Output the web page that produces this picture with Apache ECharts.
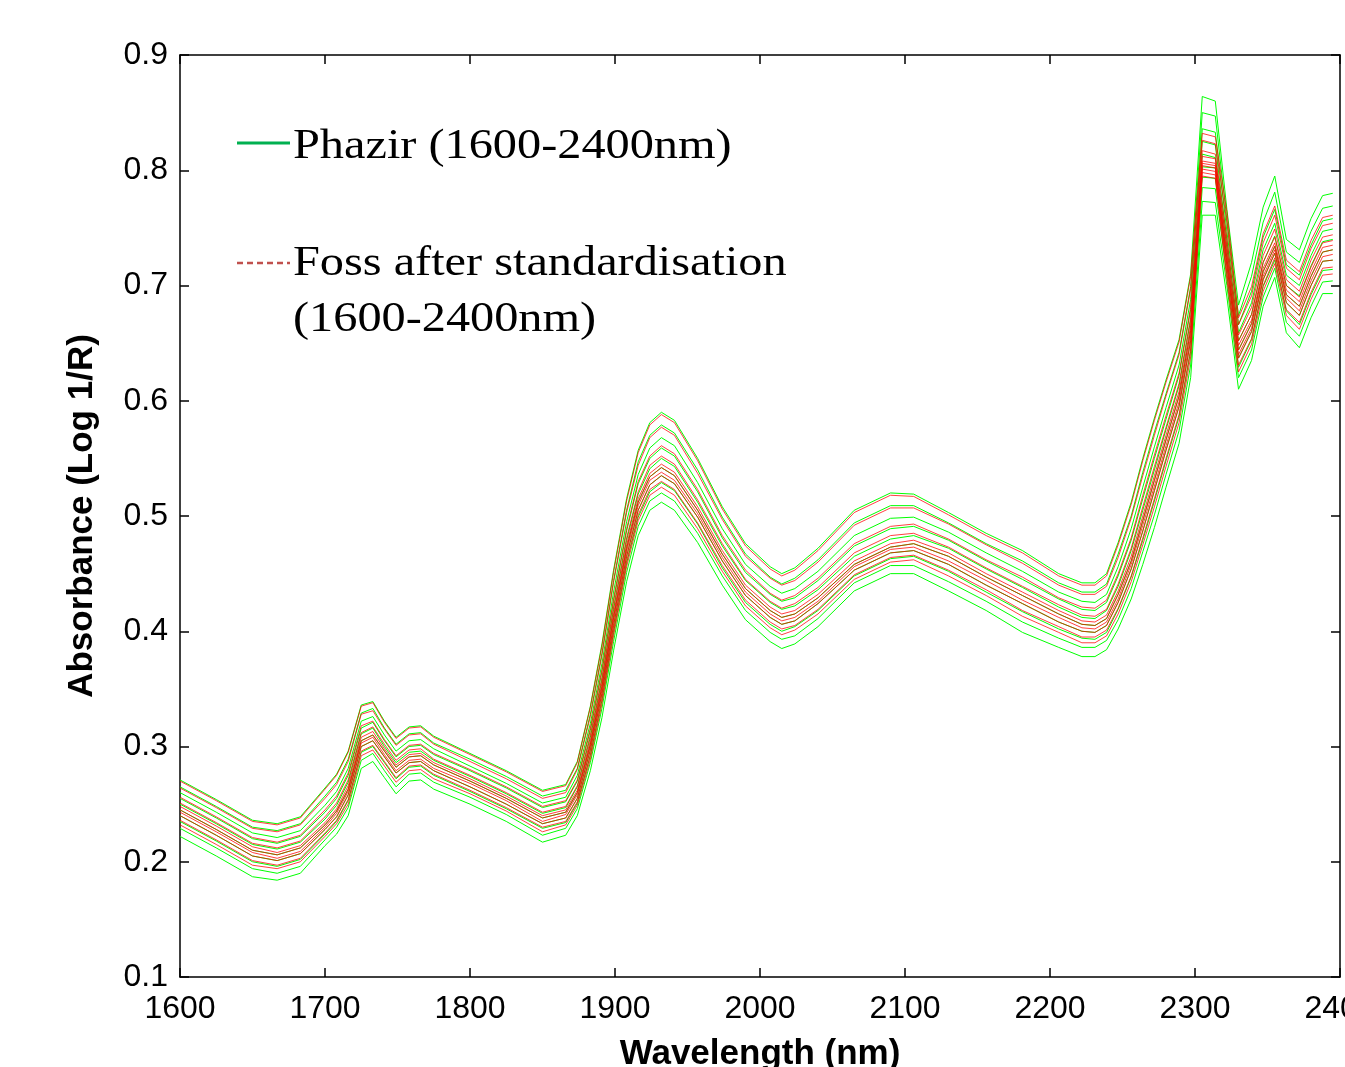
<!DOCTYPE html>
<html>
<head>
<meta charset="utf-8">
<script src="https://cdn.jsdelivr.net/npm/echarts@6/dist/echarts.min.js"></script>
<style>html,body{margin:0;padding:0;background:#fff;overflow:hidden;}#chart{width:1345px;height:1067px;}</style>
</head>
<body>
<div id="chart"></div>
<script>
// Wavelength grid (nm)
const wavelengths = [1600,1625,1650,1667,1683,1700,1708,1716,1725,1733,1741,1749,1758,1766,1775,1800,1825,1850,1866,1874,1883,1891,1899,1908,1916,1924,1932,1941,1957,1974,1990,2007,2015,2024,2040,2065,2090,2106,2130,2156,2181,2206,2222,2231,2239,2247,2256,2264,2272,2280,2289,2297,2305,2314,2322,2330,2339,2347,2355,2363,2372,2380,2388,2395];

// Phazir spectra (green)
const phazir1 = [.271,.254,.236,.233,.239,.264,.276,.296,.336,.339,.322,.308,.317,.318,.309,.294,.279,.262,.267,.287,.335,.389,.453,.515,.557,.581,.590,.583,.550,.508,.476,.456,.450,.455,.472,.505,.520,.519,.503,.485,.470,.450,.442,.442,.450,.477,.512,.550,.585,.618,.653,.710,.864,.860,.766,.683,.720,.768,.795,.740,.731,.758,.778,.780];
const phazir2 = [.265,.248,.230,.227,.233,.257,.269,.289,.329,.333,.316,.302,.311,.312,.303,.289,.274,.257,.262,.281,.328,.381,.444,.505,.547,.570,.579,.572,.540,.499,.467,.447,.441,.446,.462,.494,.509,.509,.494,.476,.461,.442,.434,.434,.441,.467,.500,.538,.573,.606,.642,.699,.850,.847,.757,.674,.708,.755,.781,.729,.720,.747,.767,.769];
const phazir3 = [.260,.243,.225,.221,.227,.249,.261,.281,.322,.326,.310,.296,.305,.306,.298,.283,.268,.251,.256,.275,.320,.372,.434,.495,.536,.559,.568,.561,.529,.489,.458,.439,.433,.437,.452,.483,.498,.499,.486,.468,.452,.434,.426,.425,.432,.456,.489,.525,.560,.594,.631,.688,.836,.833,.747,.666,.695,.742,.766,.718,.709,.735,.756,.758];
const phazir4 = [.255,.238,.220,.216,.222,.243,.255,.275,.316,.321,.305,.291,.300,.301,.293,.279,.264,.247,.252,.270,.314,.365,.426,.487,.528,.550,.559,.552,.521,.481,.451,.432,.426,.429,.444,.474,.489,.491,.479,.461,.445,.428,.419,.418,.425,.448,.479,.515,.550,.584,.622,.679,.825,.822,.739,.659,.685,.731,.754,.709,.700,.726,.747,.749];
const phazir5 = [.250,.233,.215,.211,.217,.237,.249,.269,.311,.316,.300,.286,.295,.296,.288,.274,.259,.242,.247,.265,.308,.358,.419,.479,.519,.541,.550,.543,.512,.474,.444,.425,.419,.422,.436,.465,.480,.483,.472,.454,.438,.421,.412,.411,.418,.439,.470,.505,.540,.575,.613,.670,.814,.811,.732,.652,.675,.720,.743,.700,.691,.717,.738,.740];
const phazir6 = [.245,.228,.210,.206,.212,.232,.244,.263,.305,.310,.296,.282,.291,.292,.284,.270,.255,.238,.243,.260,.302,.352,.412,.472,.512,.534,.542,.535,.505,.467,.437,.418,.412,.415,.429,.458,.473,.476,.465,.447,.431,.415,.406,.405,.411,.432,.461,.496,.531,.566,.604,.661,.803,.802,.724,.644,.667,.712,.734,.692,.682,.708,.729,.731];
const phazir7 = [.240,.223,.205,.201,.207,.228,.239,.258,.300,.305,.291,.277,.286,.287,.279,.265,.250,.233,.238,.255,.297,.346,.405,.465,.505,.527,.535,.528,.499,.461,.431,.412,.406,.409,.424,.453,.468,.470,.458,.440,.424,.408,.400,.399,.405,.425,.454,.487,.522,.557,.595,.652,.794,.793,.717,.637,.660,.705,.728,.685,.674,.700,.721,.722];
const phazir8 = [.235,.218,.200,.196,.202,.224,.235,.253,.295,.300,.286,.272,.282,.283,.275,.261,.246,.229,.234,.251,.292,.340,.399,.459,.499,.521,.529,.522,.493,.455,.425,.406,.400,.404,.418,.448,.463,.465,.452,.434,.417,.402,.394,.393,.399,.419,.447,.479,.513,.548,.586,.643,.785,.784,.709,.629,.653,.699,.722,.678,.666,.692,.713,.714];
const phazir9 = [.229,.212,.194,.190,.196,.219,.230,.247,.288,.294,.279,.265,.276,.277,.269,.256,.241,.223,.229,.246,.286,.333,.391,.451,.491,.513,.520,.513,.485,.448,.418,.399,.393,.396,.411,.442,.457,.457,.443,.426,.408,.394,.386,.386,.392,.410,.437,.469,.501,.536,.574,.631,.773,.772,.700,.620,.644,.690,.715,.668,.656,.682,.703,.704];
const phazir10 = [.222,.205,.187,.184,.190,.214,.224,.240,.281,.287,.273,.259,.270,.271,.263,.250,.235,.217,.223,.240,.279,.325,.383,.443,.483,.505,.512,.505,.477,.440,.410,.391,.385,.389,.404,.435,.450,.450,.435,.418,.399,.386,.378,.378,.384,.402,.428,.458,.490,.525,.563,.620,.761,.761,.690,.610,.635,.682,.707,.659,.646,.672,.693,.693];

// Foss after standardisation spectra (red)
const foss1 = [.270,.253,.235,.232,.238,.263,.275,.295,.335,.338,.321,.307,.316,.317,.308,.293,.278,.261,.266,.286,.334,.387,.451,.513,.555,.579,.588,.581,.548,.506,.474,.454,.448,.453,.470,.503,.518,.517,.501,.483,.468,.448,.440,.440,.448,.475,.510,.548,.583,.616,.651,.708,.832,.829,.764,.672,.699,.745,.769,.722,.712,.739,.759,.761];
const foss2 = [.264,.247,.229,.226,.232,.255,.267,.287,.328,.331,.315,.301,.310,.311,.302,.287,.272,.255,.260,.280,.326,.379,.442,.503,.544,.568,.577,.570,.537,.497,.465,.446,.440,.444,.460,.492,.507,.507,.493,.475,.459,.440,.432,.432,.439,.464,.498,.535,.570,.604,.640,.697,.826,.823,.755,.666,.691,.737,.761,.715,.705,.732,.752,.754];
const foss3 = [.256,.239,.221,.217,.223,.245,.257,.277,.318,.322,.306,.292,.301,.302,.294,.280,.265,.248,.253,.271,.316,.367,.428,.489,.530,.552,.561,.554,.523,.483,.453,.433,.427,.431,.446,.476,.491,.493,.480,.462,.447,.429,.421,.420,.427,.450,.481,.518,.553,.587,.624,.681,.817,.814,.741,.657,.681,.726,.749,.705,.695,.722,.742,.744];
const foss4 = [.251,.234,.216,.212,.218,.239,.251,.271,.312,.317,.302,.288,.297,.298,.289,.275,.260,.243,.248,.266,.310,.360,.421,.481,.521,.544,.552,.545,.514,.476,.445,.426,.420,.424,.438,.468,.483,.485,.473,.455,.439,.423,.414,.413,.419,.441,.472,.508,.543,.577,.615,.672,.812,.810,.734,.652,.675,.720,.742,.700,.690,.716,.737,.739];
const foss5 = [.248,.231,.213,.208,.214,.234,.246,.266,.308,.313,.298,.284,.293,.294,.286,.272,.257,.240,.245,.262,.305,.355,.415,.475,.515,.537,.545,.538,.508,.470,.440,.421,.415,.418,.432,.461,.476,.479,.468,.450,.434,.418,.409,.408,.414,.435,.465,.500,.535,.570,.608,.665,.808,.806,.728,.648,.670,.715,.737,.696,.686,.712,.733,.735];
const foss6 = [.245,.228,.210,.206,.212,.232,.244,.263,.305,.310,.296,.282,.291,.292,.284,.270,.255,.238,.243,.260,.302,.352,.412,.472,.512,.534,.542,.535,.505,.467,.437,.418,.412,.415,.429,.458,.473,.476,.465,.447,.431,.415,.406,.405,.411,.432,.461,.496,.531,.566,.604,.661,.806,.804,.724,.644,.667,.712,.734,.692,.682,.708,.729,.731];
const foss7 = [.243,.226,.208,.203,.209,.230,.242,.261,.303,.308,.293,.279,.288,.289,.281,.268,.253,.235,.241,.258,.300,.349,.409,.469,.509,.531,.538,.531,.502,.464,.434,.415,.409,.412,.426,.456,.471,.473,.461,.444,.427,.412,.403,.402,.408,.428,.458,.492,.526,.561,.599,.656,.804,.802,.720,.640,.663,.708,.731,.689,.678,.704,.725,.727];
const foss8 = [.240,.223,.205,.201,.207,.228,.239,.258,.300,.305,.291,.277,.286,.287,.279,.265,.250,.233,.238,.255,.297,.346,.405,.465,.505,.527,.535,.528,.499,.461,.431,.412,.406,.409,.424,.453,.468,.470,.458,.440,.424,.408,.400,.399,.405,.425,.454,.487,.522,.557,.595,.652,.801,.799,.717,.637,.660,.705,.728,.685,.674,.700,.721,.722];
const foss9 = [.236,.219,.201,.197,.203,.225,.236,.254,.296,.301,.287,.273,.283,.284,.276,.262,.247,.230,.235,.252,.293,.342,.401,.461,.501,.523,.530,.523,.494,.457,.427,.408,.402,.405,.419,.449,.464,.466,.453,.436,.418,.404,.395,.395,.401,.420,.448,.481,.515,.550,.588,.645,.798,.796,.711,.631,.654,.700,.724,.679,.668,.694,.715,.716];
const foss10 = [.232,.215,.197,.194,.200,.222,.233,.250,.292,.297,.283,.269,.279,.280,.272,.259,.244,.226,.232,.249,.289,.337,.396,.456,.496,.518,.525,.518,.489,.452,.422,.403,.397,.401,.415,.445,.460,.462,.448,.431,.413,.399,.390,.390,.396,.415,.443,.475,.508,.543,.581,.638,.795,.793,.705,.625,.649,.695,.719,.674,.662,.688,.709,.710];

const xTicks = [1600,1700,1800,1900,2000,2100,2200,2300,2400];
const yTicks = [0.1,0.2,0.3,0.4,0.5,0.6,0.7,0.8,0.9];

const phazirSet = [phazir1,phazir2,phazir3,phazir4,phazir5,phazir6,phazir7,phazir8,phazir9,phazir10];
const fossSet = [foss1,foss2,foss3,foss4,foss5,foss6,foss7,foss8,foss9,foss10];

function toSeries(vals, name, color, opacity) {
  return {
    type: 'line', name: name, showSymbol: false, symbol: 'none', silent: true,
    data: wavelengths.map((w, i) => [w, vals[i]]),
    lineStyle: { color: color, width: 1, opacity: opacity },
    xAxisIndex: 0, yAxisIndex: 0, z: 2
  };
}
const series = [];
phazirSet.forEach(v => series.push(toSeries(v, 'Phazir (1600-2400nm)', '#00ff00', 1)));
fossSet.forEach(v => series.push(toSeries(v, 'Foss after standardisation (1600-2400nm)', '#ff0000', 0.75)));

const chart = echarts.init(document.getElementById('chart'), null, { renderer: 'canvas' });
const axisLabelFont = { fontFamily: 'Liberation Sans, Arial, sans-serif', fontSize: 32, color: '#000' };
const nameFont = { fontFamily: 'Liberation Sans, Arial, sans-serif', fontSize: 35, fontWeight: 'bold', color: '#000' };

chart.setOption({
  animation: false,
  backgroundColor: '#fff',
  grid: { left: 180, right: 5, top: 55, bottom: 90, containLabel: false, outerBoundsMode: 'none' },
  xAxis: [{
    type: 'value', min: 1600, max: 2400, interval: 100, position: 'bottom',
    name: 'Wavelength (nm)', nameLocation: 'middle', nameGap: 60, nameTextStyle: nameFont,
    axisLine: { show: true, lineStyle: { color: '#000', width: 1.5 } },
    axisTick: { show: true, inside: true, length: 9, lineStyle: { color: '#000', width: 1.5 } },
    axisLabel: Object.assign({ margin: 16, showMaxLabel: true, showMinLabel: true, hideOverlap: false,
      formatter: v => String(Math.round(v)) }, axisLabelFont),
    splitLine: { show: false }
  }, {
    type: 'value', min: 1600, max: 2400, interval: 100, position: 'top',
    axisLine: { show: true, lineStyle: { color: '#000', width: 1.5 } },
    axisTick: { show: true, inside: true, length: 9, lineStyle: { color: '#000', width: 1.5 } },
    axisLabel: { show: false }, splitLine: { show: false }
  }],
  yAxis: [{
    type: 'value', min: 0.1, max: 0.9, interval: 0.1, position: 'left',
    name: 'Absorbance (Log 1/R)', nameLocation: 'middle', nameGap: 80, nameRotate: 90, nameTextStyle: nameFont,
    axisLine: { show: true, lineStyle: { color: '#000', width: 1.5 } },
    axisTick: { show: true, inside: true, length: 9, lineStyle: { color: '#000', width: 1.5 } },
    axisLabel: Object.assign({ margin: 12, formatter: v => (Math.round(v * 10) / 10).toFixed(1) }, axisLabelFont),
    splitLine: { show: false }
  }, {
    type: 'value', min: 0.1, max: 0.9, interval: 0.1, position: 'right',
    axisLine: { show: true, lineStyle: { color: '#000', width: 1.5 } },
    axisTick: { show: true, inside: true, length: 9, lineStyle: { color: '#000', width: 1.5 } },
    axisLabel: { show: false }, splitLine: { show: false }
  }],
  graphic: [
    { type: 'line', shape: { x1: 237, y1: 143, x2: 290, y2: 143 }, style: { stroke: '#00b050', lineWidth: 3 }, z: 10 },
    { type: 'text', x: 293, y: 147, scaleX: 1.15, style: { text: 'Phazir (1600-2400nm)', fontFamily: 'Liberation Serif, Times New Roman, serif', fontSize: 42, fill: '#000', verticalAlign: 'middle', align: 'left' }, z: 10 },
    { type: 'line', shape: { x1: 237, y1: 263, x2: 290, y2: 263 }, style: { stroke: '#c0504d', lineWidth: 2.5, lineDash: [6, 4] }, z: 10 },
    { type: 'text', x: 293, y: 264, scaleX: 1.15, style: { text: 'Foss after standardisation', fontFamily: 'Liberation Serif, Times New Roman, serif', fontSize: 42, fill: '#000', verticalAlign: 'middle', align: 'left' }, z: 10 },
    { type: 'text', x: 293, y: 320, scaleX: 1.15, style: { text: '(1600-2400nm)', fontFamily: 'Liberation Serif, Times New Roman, serif', fontSize: 42, fill: '#000', verticalAlign: 'middle', align: 'left' }, z: 10 }
  ],
  series: series
});
</script>
</body>
</html>
